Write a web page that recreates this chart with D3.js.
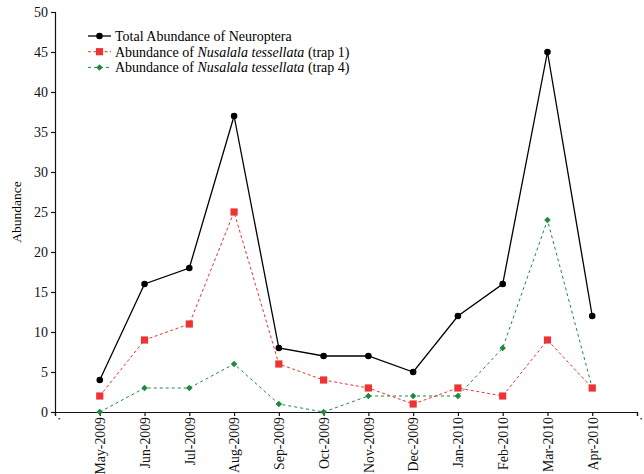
<!DOCTYPE html>
<html>
<head>
<meta charset="utf-8">
<script src="https://cdn.jsdelivr.net/npm/d3@7"></script>
<style>
  body { margin: 0; background: #fff; }
  text { font-family: "Liberation Serif", "Times New Roman", serif; }
</style>
</head>
<body>
<div class="chart"></div>
<script>
// months shown on the x axis (blank slots at each end, like the original)
const months = ['May-2009', 'Jun-2009', 'Jul-2009', 'Aug-2009', 'Sep-2009', 'Oct-2009',
  'Nov-2009', 'Dec-2009', 'Jan-2010', 'Feb-2010', 'Mar-2010', 'Apr-2010'];
const total = [4, 16, 18, 37, 8, 7, 7, 5, 12, 16, 45, 12];
const trap1 = [2, 9, 11, 25, 6, 4, 3, 1, 3, 2, 9, 3];
const trap4 = [0, 3, 3, 6, 1, 0, 2, 2, 2, 8, 24, 3];
const y_ticks = [0, 5, 10, 15, 20, 25, 30, 35, 40, 45, 50];

const W = 644, H = 474;
const margin = { top: 12, right: 7, bottom: 62, left: 55 };
const graph_w = W - margin.left - margin.right;
const graph_h = H - margin.top - margin.bottom;

const svg = d3.select('.chart').append('svg').attr('width', W).attr('height', H);
const graph = svg.append('g').attr('transform', `translate(${margin.left}, ${margin.top})`);

const domain = ['.', ...months, '. '];
const x = d3.scalePoint().domain(domain).range([0, graph_w]);
const y = d3.scaleLinear().domain([0, 50]).range([graph_h, 0]);

// axes
const x_axis = d3.axisBottom(x).tickSizeOuter(0).tickSize(4).tickPadding(6);
const y_axis = d3.axisLeft(y).tickValues(y_ticks).tickSizeOuter(0).tickSize(4).tickPadding(3);

const xg = graph.append('g').attr('transform', `translate(0, ${graph_h})`).call(x_axis);
xg.selectAll('text')
  .attr('transform', 'rotate(-90)')
  .attr('text-anchor', 'end')
  .attr('x', -5).attr('y', 0).attr('dy', '0.35em')
  .style('font-size', '13.8px').attr('fill', '#111');

const yg = graph.append('g').call(y_axis);
yg.selectAll('text').style('font-size', '14px').attr('fill', '#111');

svg.selectAll('.domain, .tick line').attr('stroke', '#111').attr('stroke-width', 1.2);

svg.append('text')
  .attr('transform', `translate(21, ${margin.top + graph_h / 2}) rotate(-90)`)
  .attr('text-anchor', 'middle')
  .style('font-size', '13.5px')
  .text('Abundance');

// series
const series = [
  { values: total, color: '#000', dash: null, marker: 'circle' },
  { values: trap1, color: '#ee3333', dash: '3,2.5', marker: 'square' },
  { values: trap4, color: '#1f8a3c', dash: '3,3', marker: 'diamond' }
];

const line = d3.line().x((d, i) => x(months[i])).y(d => y(d));

function marker(g, type, color) {
  if (type === 'circle') g.append('circle').attr('r', 3.3).attr('fill', color);
  else if (type === 'square') g.append('rect').attr('x', -3.6).attr('y', -3.6).attr('width', 7.2).attr('height', 7.2).attr('fill', color);
  else g.append('rect').attr('x', -2.3).attr('y', -2.3).attr('width', 4.6).attr('height', 4.6)
    .attr('transform', 'rotate(45)').attr('fill', color);
}

series.slice().reverse().forEach(s => {
  graph.append('path').datum(s.values)
    .attr('fill', 'none')
    .attr('stroke', s.color)
    .attr('stroke-width', s.dash ? 1 : 1.3)
    .attr('stroke-dasharray', s.dash)
    .attr('d', line);
  s.values.forEach((v, i) => {
    const g = graph.append('g').attr('transform', `translate(${x(months[i])}, ${y(v)})`);
    marker(g, s.marker, s.color);
  });
});

// legend
const legend = svg.append('g').attr('transform', 'translate(88, 36)');
const labels = [
  ['Total Abundance of Neuroptera'],
  ['Abundance of ', 'Nusalala tessellata', ' (trap 1)'],
  ['Abundance of ', 'Nusalala tessellata', ' (trap 4)']
];
series.forEach((s, i) => {
  const row = legend.append('g').attr('transform', `translate(0, ${i * 15.7})`);
  row.append('line').attr('x1', 0).attr('x2', 23).attr('stroke', s.color)
    .attr('stroke-width', s.dash ? 1 : 1.3).attr('stroke-dasharray', s.dash);
  marker(row.append('g').attr('transform', 'translate(11.5, 0)'), s.marker, s.color);
  const t = row.append('text').attr('x', 27).attr('dy', '0.35em').style('font-size', '14px');
  labels[i].forEach((part, j) => {
    t.append('tspan').text(part).style('font-style', j === 1 ? 'italic' : 'normal');
  });
});
</script>
</body>
</html>
